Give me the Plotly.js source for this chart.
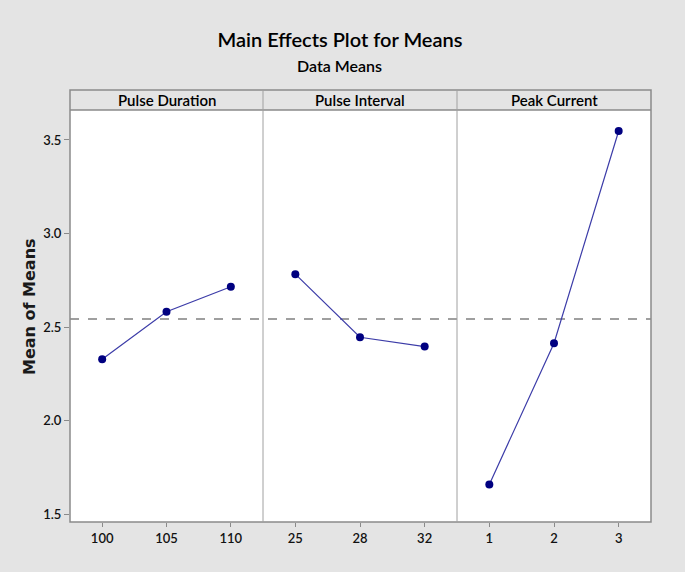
<!DOCTYPE html>
<html>
<head>
<meta charset="utf-8">
<script src="https://cdn.plot.ly/plotly-3.0.1.min.js"></script>
<style>
  html, body { margin: 0; padding: 0; background: #e4e4e4; }
  #chart { width: 685px; height: 572px; }
</style>
</head>
<body>
<div id="chart"></div>
<script>
// ---- Data ----
var panelTitles = ["Pulse Duration", "Pulse Interval", "Peak Current"];
var pulseDurationLevels = ["100", "105", "110"];
var pulseDurationMeans = [2.328, 2.582, 2.716];
var pulseIntervalLevels = ["25", "28", "32"];
var pulseIntervalMeans = [2.783, 2.446, 2.396];
var peakCurrentLevels = ["1", "2", "3"];
var peakCurrentMeans = [1.660, 2.414, 3.548];
var grandMean = 2.543;
var yTickVals = [1.5, 2.0, 2.5, 3.0, 3.5];
var yTickText = ["1.5", "2.0", "2.5", "3.0", "3.5"];

var narrow = "Lato, Roboto, sans-serif";
var lineColor = "#3c3ca8";
var markerColor = "#000080";
var frameColor = "#8a8a8a";

var levels = [pulseDurationLevels, pulseIntervalLevels, peakCurrentLevels];
var means = [pulseDurationMeans, pulseIntervalMeans, peakCurrentMeans];
var axisNames = ["x", "x2", "x3"];

var traces = levels.map(function (lv, i) {
  return {
    x: lv, y: means[i],
    xaxis: axisNames[i], yaxis: "y",
    type: "scatter", mode: "lines+markers",
    line: { color: lineColor, width: 1.2 },
    marker: { color: markerColor, size: 8, symbol: "circle" },
    hoverinfo: "x+y", showlegend: false
  };
});

var W = 581; // plot width in px (70..651)
var d1 = 193 / W, d2 = 387 / W;
var yTop = 412 / 432; // top of data area (header strip above)

function xa(domain) {
  return {
    domain: domain, type: "category", range: [-0.5, 2.5],
    showgrid: false, zeroline: false, showline: false,
    ticks: "outside", ticklen: 4, tickwidth: 1, tickcolor: "#8a8a8a",
    tickfont: { family: narrow, size: 13, weight: 600, color: "#111" },
    fixedrange: true
  };
}

var shapes = [
  { type: "rect", xref: "paper", yref: "paper", x0: 0, x1: 1, y0: 0, y1: 1,
    line: { color: frameColor, width: 1.5 }, layer: "above" },
  { type: "line", xref: "paper", yref: "paper", x0: 0, x1: 1, y0: yTop, y1: yTop,
    line: { color: frameColor, width: 1.5 }, layer: "above" },
  { type: "line", xref: "paper", yref: "paper", x0: d1, x1: d1, y0: 0, y1: 1,
    line: { color: "#a0a0a0", width: 1 }, layer: "above" },
  { type: "line", xref: "paper", yref: "paper", x0: d2, x1: d2, y0: 0, y1: 1,
    line: { color: "#a0a0a0", width: 1 }, layer: "above" },
  { type: "line", xref: "paper", yref: "y", x0: 0, x1: 1, y0: grandMean, y1: grandMean,
    line: { color: "#808080", width: 1.5, dash: "dash" }, layer: "below" }
];

var centers = [d1 / 2, (d1 + d2) / 2, (d2 + 1) / 2];
var annotations = panelTitles.map(function (t, i) {
  return {
    text: t, xref: "paper", yref: "paper", x: centers[i], y: (yTop + 1) / 2,
    xanchor: "center", yanchor: "middle", showarrow: false,
    font: { family: narrow, size: 15, weight: 600, color: "#000" }
  };
});
annotations.push({
  text: "Data Means", xref: "paper", yref: "paper", x: 0.4647, y: 1,
  yshift: 25, xanchor: "center", yanchor: "middle", showarrow: false,
  font: { family: narrow, size: 16, weight: 600, color: "#000" }
});
annotations.push({
  text: "Mean of Means", xref: "paper", yref: "paper", x: 0, y: 0.4977,
  xshift: -40, xanchor: "center", yanchor: "middle", textangle: -90, showarrow: false,
  font: { family: "DejaVu Sans, sans-serif", size: 16, weight: "bold", color: "#1a1a1a" }
});

var layout = {
  width: 685, height: 572,
  paper_bgcolor: "#e4e4e4", plot_bgcolor: "#ffffff",
  margin: { l: 70, r: 34, t: 90, b: 50 },
  title: {
    text: "Main Effects Plot for Means",
    x: 0.4647, xref: "paper", xanchor: "center",
    y: 1 - 40 / 572, yanchor: "middle",
    font: { family: narrow, size: 20, weight: 600, color: "#000" }
  },
  xaxis: xa([0, d1]),
  xaxis2: xa([d1, d2]),
  xaxis3: xa([d2, 1]),
  yaxis: {
    domain: [0, yTop], range: [1.459, 3.66],
    tickvals: yTickVals, ticktext: yTickText,
    showgrid: false, zeroline: false, showline: false,
    ticks: "outside", ticklen: 5, tickwidth: 1, tickcolor: "#8a8a8a",
    tickfont: { family: narrow, size: 13, weight: 600, color: "#111" },
    fixedrange: true
  },
  shapes: shapes,
  annotations: annotations,
  showlegend: false
};

Plotly.newPlot("chart", traces, layout, { displayModeBar: false, staticPlot: true });
</script>
</body>
</html>
